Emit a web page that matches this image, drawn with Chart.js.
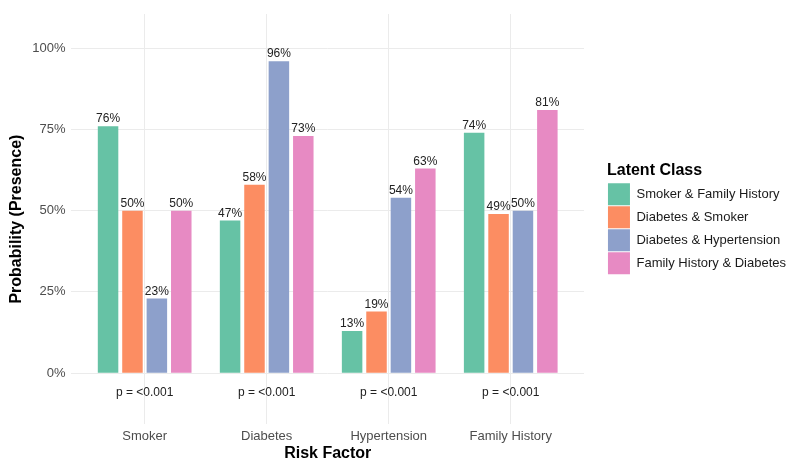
<!DOCTYPE html>
<html>
<head>
<meta charset="utf-8">
<script src="https://cdn.jsdelivr.net/npm/chart.js@4"></script>
<style>
  html, body { margin: 0; padding: 0; background: #fff; }
  #wrap { width: 800px; height: 472px; }
</style>
</head>
<body>
<div id="wrap"><canvas id="lcaChart" width="800" height="472"></canvas></div>
<script>
// risk factors on the x axis
const riskFactors = ['Smoker', 'Diabetes', 'Hypertension', 'Family History'];
// latent classes (legend order)
const latentClasses = ['Smoker & Family History', 'Diabetes & Smoker', 'Diabetes & Hypertension', 'Family History & Diabetes'];
// probability of presence (%) per class, in riskFactors order
const smokerFamily = [76, 47, 13, 74];
const diabetesSmoker = [50, 58, 19, 49];
const diabetesHypertension = [23, 96, 54, 50];
const familyDiabetes = [50, 73, 63, 81];
const pValues = ['p = <0.001', 'p = <0.001', 'p = <0.001', 'p = <0.001'];
const yTicks = [0, 25, 50, 75, 100];

const classColors = ['#66C2A5', '#FC8D62', '#8DA0CB', '#E78AC3'];
const seriesValues = [smokerFamily, diabetesSmoker, diabetesHypertension, familyDiabetes];
const FONT = "'Liberation Sans', Arial, sans-serif";
const LEGEND_GAP = 23; // space between panel and legend

const datasets = latentClasses.map((name, i) => ({
  label: name,
  data: seriesValues[i].map((v, j) => ({ x: j + 1, y: v })),
  backgroundColor: classColors[i],
  borderWidth: 0,
  barPercentage: 0.84,
  categoryPercentage: 0.8
}));

// bar value labels and p-value annotations
const annotatePlugin = {
  id: 'annotate',
  afterDatasetsDraw(chart) {
    const ctx = chart.ctx;
    ctx.save();
    ctx.font = '12px ' + FONT;
    ctx.fillStyle = '#222';
    ctx.textAlign = 'center';
    ctx.textBaseline = 'bottom';
    chart.data.datasets.forEach((ds, i) => {
      const meta = chart.getDatasetMeta(i);
      meta.data.forEach((bar, j) => {
        ctx.fillText(ds.data[j].y + '%', bar.x, bar.y - 1);
      });
    });
    ctx.textBaseline = 'middle';
    const xs = chart.scales.x, ys = chart.scales.y;
    pValues.forEach((p, j) => {
      ctx.fillText(p, xs.getPixelForValue(j + 1), ys.getPixelForValue(-6));
    });
    ctx.restore();
  }
};

// leave a gap between the plot panel and the legend
const legendGapPlugin = {
  id: 'legendGap',
  beforeLayout(chart) {
    const lg = chart.legend;
    if (lg && !lg._gapPatched) {
      const fit = lg.fit;
      lg.fit = function () {
        fit.call(this);
        this.width += LEGEND_GAP;
      };
      lg._gapPatched = true;
    }
  },
  afterLayout(chart) {
    if (chart.legend) chart.legend.left += LEGEND_GAP;
  }
};

new Chart(document.getElementById('lcaChart').getContext('2d'), {
  type: 'bar',
  data: { datasets: datasets },
  plugins: [annotatePlugin, legendGapPlugin],
  options: {
    responsive: false,
    animation: false,
    layout: { padding: { top: 14, right: 4, bottom: 9, left: 7 } },
    scales: {
      x: {
        type: 'linear',
        min: 0.4,
        max: 4.6,
        offset: false,
        afterBuildTicks: axis => { axis.ticks = riskFactors.map((r, i) => ({ value: i + 1 })); },
        ticks: {
          callback: v => riskFactors[v - 1],
          color: '#4d4d4d',
          font: { family: FONT, size: 13 },
          padding: 4
        },
        grid: { color: '#ebebeb', lineWidth: 1, drawTicks: false, offset: false },
        border: { display: false },
        title: {
          display: true,
          text: 'Risk Factor',
          color: '#000',
          font: { family: FONT, size: 16, weight: 'bold' },
          padding: { top: -4, bottom: 0 }
        }
      },
      y: {
        min: -15.7,
        max: 110.5,
        afterBuildTicks: axis => { axis.ticks = yTicks.map(v => ({ value: v })); },
        ticks: {
          callback: v => v + '%',
          color: '#4d4d4d',
          font: { family: FONT, size: 13 },
          padding: 6
        },
        grid: { color: '#ebebeb', lineWidth: 1, drawTicks: false },
        border: { display: false },
        title: {
          display: true,
          text: 'Probability (Presence)',
          color: '#000',
          font: { family: FONT, size: 16, weight: 'bold' },
          padding: { top: 0, bottom: 0 }
        }
      }
    },
    plugins: {
      legend: {
        position: 'right',
        align: 'center',
        fullSize: false,
        title: {
          display: true,
          text: 'Latent Class',
          position: 'start',
          color: '#000',
          font: { family: FONT, size: 16, weight: 'bold' },
          padding: { top: 0, bottom: 0 }
        },
        labels: {
          boxWidth: 22,
          boxHeight: 22,
          padding: 1,
          color: '#1a1a1a',
          font: { family: FONT, size: 13 }
        }
      },
      tooltip: { enabled: false }
    }
  }
});
</script>
</body>
</html>
